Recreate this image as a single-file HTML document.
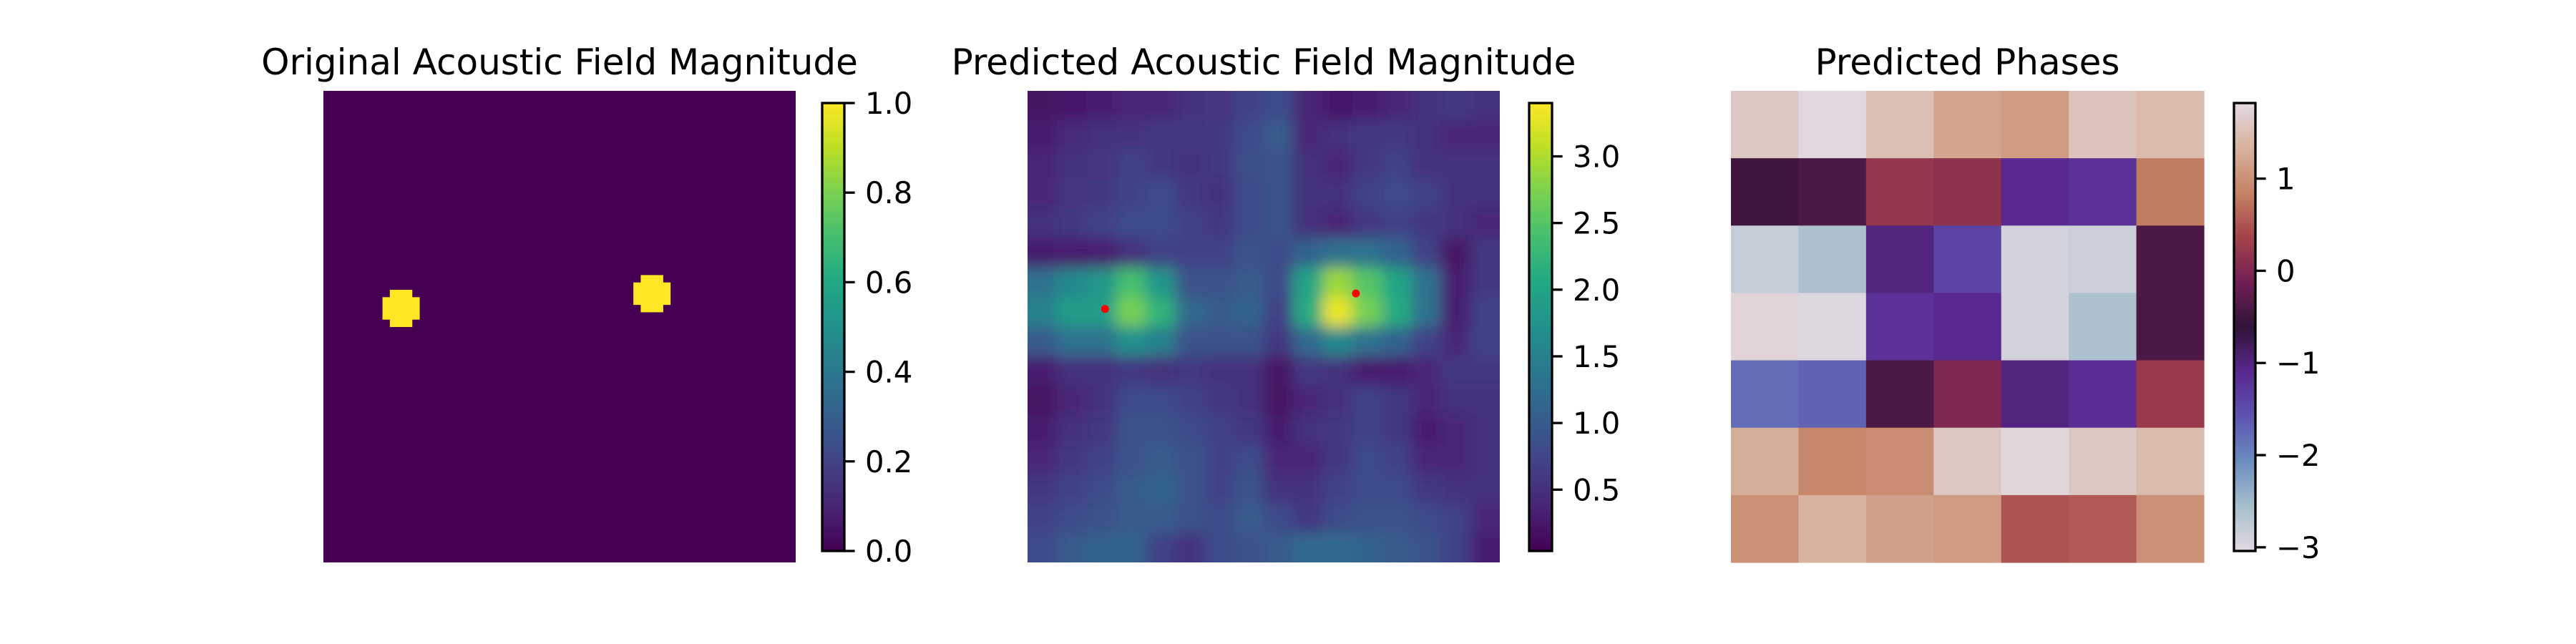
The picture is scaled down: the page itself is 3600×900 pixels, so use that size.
<!DOCTYPE html>
<html><head><meta charset="utf-8">
<style>
html,body{margin:0;padding:0;background:#fff;}
svg{display:block;}
text{font-family:"DejaVu Sans","Liberation Sans",sans-serif;fill:#000;}
</style></head>
<body>
<svg id="fig" width="3600" height="900" viewBox="0 0 3600 900" xmlns="http://www.w3.org/2000/svg">
<defs>
<clipPath id="clipP2"><rect x="1436" y="127" width="660" height="659"/></clipPath>
<filter id="smooth" filterUnits="userSpaceOnUse" x="1336" y="27" width="860" height="860"><feGaussianBlur stdDeviation="10"/></filter>
</defs>
</svg>
<script>
// ---------- data ----------
const origGridSize = 64;
const origBlobCenters = [[29, 10], [27, 44]]; // [row, col]
const origBlobRows = [[-2, 1], [-1, 2], [0, 2], [1, 2], [2, 1]]; // [rowOffset, halfWidth]
const origTicks = [0.0, 0.2, 0.4, 0.6, 0.8, 1.0];
const origTickLabels = ["0.0", "0.2", "0.4", "0.6", "0.8", "1.0"];

const predMag = [
[0.2,0.25,0.3,0.4,0.4,0.5,0.55,0.7,0.8,0.4,0.25,0.3,0.4,0.5,0.6,0.5],
[0.3,0.45,0.5,0.5,0.6,0.6,0.6,0.8,1.0,0.4,0.5,0.6,0.6,0.5,0.4,0.4],
[0.4,0.5,0.55,0.7,0.6,0.5,0.6,0.85,0.9,0.5,0.4,0.6,0.7,0.5,0.5,0.5],
[0.4,0.55,0.6,0.7,0.8,0.6,0.5,0.8,0.9,0.5,0.5,0.7,0.8,0.7,0.5,0.5],
[0.5,0.6,0.7,0.8,0.8,0.7,0.6,0.8,0.9,0.5,0.4,0.6,0.7,0.6,0.5,0.4],
[0.3,0.3,0.3,0.5,0.7,0.7,0.7,0.9,0.8,1.1,1.3,1.3,1.1,0.7,0.2,0.6],
[1.3,1.6,1.8,2.4,1.8,0.9,0.9,1.0,0.8,2.0,2.9,2.5,2.0,1.3,0.3,0.6],
[1.5,1.9,1.9,2.7,2.2,1.2,1.0,1.1,0.7,2.1,3.3,2.7,2.1,1.3,0.3,0.7],
[1.0,1.3,1.3,1.7,1.5,0.9,0.9,0.9,0.6,1.2,1.6,1.3,1.1,0.7,0.4,0.7],
[0.3,0.5,0.5,0.6,0.5,0.6,0.5,0.5,0.2,0.6,0.5,0.3,0.3,0.4,0.6,0.6],
[0.2,0.4,0.5,0.8,0.8,0.7,0.6,0.5,0.2,0.4,0.5,0.7,0.6,0.4,0.5,0.5],
[0.3,0.5,0.6,0.9,0.9,0.8,0.7,0.6,0.3,0.5,0.6,0.7,0.6,0.3,0.4,0.5],
[0.4,0.6,0.7,0.9,1.0,0.9,0.7,0.8,0.4,0.4,0.6,0.8,0.7,0.4,0.4,0.5],
[0.6,0.7,0.8,1.0,1.1,0.9,0.7,0.9,0.5,0.5,0.7,0.8,0.8,0.6,0.5,0.5],
[0.7,0.8,0.9,1.0,1.0,0.9,0.8,1.0,0.8,0.6,0.8,0.9,0.9,0.8,0.7,0.4],
[0.8,1.0,1.1,1.1,0.7,0.5,0.8,0.9,1.0,1.2,1.2,1.1,1.0,0.9,0.7,0.3]
];
const predMin = 0.04, predMax = 3.4;
const predPeaks = [[29.6, 10.5], [27.5, 44.5]]; // [row, col] in 64-grid
const predTicks = [0.5, 1.0, 1.5, 2.0, 2.5, 3.0];
const predTickLabels = ["0.5", "1.0", "1.5", "2.0", "2.5", "3.0"];

const phases = [
[1.6, 1.8, 1.5, 1.2, 1.1, 1.55, 1.45],
[-0.5, -0.4, 0.2, 0.15, -1.1, -1.2, 0.8],
[-2.8, -2.6, -1.0, -1.4, -2.9, -2.85, -0.4],
[1.75, -3.0, -1.2, -1.1, -2.9, -2.6, -0.4],
[-1.8, -1.7, -0.4, 0.0, -1.0, -1.15, 0.25],
[1.3, 0.9, 0.95, 1.6, 1.78, 1.6, 1.45],
[1.0, 1.35, 1.15, 1.1, 0.5, 0.55, 1.0]
];
const phaseMin = -3.04, phaseMax = 1.82;
const phaseTicks = [-3, -2, -1, 0, 1];
const phaseTickLabels = ["\u22123", "\u22122", "\u22121", "0", "1"];

// ---------- colormaps ----------
const viridisStops = [[68,1,84],[72,36,117],[65,68,135],[53,95,141],[42,120,142],[33,145,140],[34,168,132],[68,191,112],[122,209,81],[189,223,38],[253,231,37]];
const twilightStops = [[226,217,226],[166,191,203],[106,140,191],[93,84,176],[89,40,143],[47,20,55],[114,30,84],[164,67,74],[197,130,101],[216,178,157],[226,217,226]];
function cmap(stops, t){
  t = Math.max(0, Math.min(1, t));
  const f = t*(stops.length-1), i = Math.min(Math.floor(f), stops.length-2), u = f-i;
  const a = stops[i], b = stops[i+1];
  return `rgb(${Math.round(a[0]+(b[0]-a[0])*u)},${Math.round(a[1]+(b[1]-a[1])*u)},${Math.round(a[2]+(b[2]-a[2])*u)})`;
}

const NS = "http://www.w3.org/2000/svg";
const svg = document.getElementById('fig');
const defs = svg.querySelector('defs');
function el(tag, attrs, parent){
  const e = document.createElementNS(NS, tag);
  for (const k in attrs) e.setAttribute(k, attrs[k]);
  (parent||svg).appendChild(e);
  return e;
}

const IMG_Y = 127, IMG_H = 659, CB_Y = 144, CB_H = 626;

function gradient(id, stops){
  const g = el('linearGradient', {id:id, x1:0, y1:1, x2:0, y2:0}, defs);
  stops.forEach((s,i)=>{ el('stop', {offset:(i/(stops.length-1)), 'stop-color':`rgb(${s[0]},${s[1]},${s[2]})`}, g); });
}
gradient('gViridis', viridisStops);
gradient('gTwilight', twilightStops);

function title(txt, cx, name){
  const t = el('text', {x:cx, y:104, 'font-size':50, 'text-anchor':'middle'});
  
  
  t.textContent = txt;
}

function colorbar(x, w, grad, vmin, vmax, ticks, labels, name){
  const g = el('g', {});
  
  
  el('rect', {x:x, y:CB_Y, width:w, height:CB_H, fill:`url(#${grad})`}, g);
  el('rect', {x:x, y:CB_Y, width:w, height:CB_H, fill:'none', stroke:'#000', 'stroke-width':3.3}, g);
  const yOf = v => CB_Y + CB_H - (v - vmin)/(vmax - vmin)*CB_H;
  ticks.forEach((v,i)=>{
    const y = yOf(v);
    const tk = el('line', {x1:x+w, x2:x+w+14.6, y1:y, y2:y, stroke:'#000', 'stroke-width':3.3}, g);
    
    
    const lb = el('text', {x:x+w+29, y:y+15, 'font-size':41.7}, g);
    
    
    lb.textContent = labels[i];
  });
}

// ---------- Panel 1: original ----------
(function(){
  const X0 = 452, W = 660;
  const cs = W/origGridSize, csy = IMG_H/origGridSize;
  const g = el('g', {});
  
  
  el('rect', {x:X0, y:IMG_Y, width:W, height:IMG_H, fill:cmap(viridisStops,0)}, g);
  origBlobCenters.forEach(c=>{
    origBlobRows.forEach(r=>{
      const row = c[0]+r[0];
      const b = el('rect', {x:X0+(c[1]-r[1])*cs, y:IMG_Y+row*csy, width:(2*r[1]+1)*cs+0.5, height:csy+0.5, fill:cmap(viridisStops,1)}, g);
      
      
    });
  });
  title('Original Acoustic Field Magnitude', X0+W/2, 'original-title');
  colorbar(1149, 31, 'gViridis', 0, 1, origTicks, origTickLabels, 'original-colorbar');
})();

// ---------- Panel 2: predicted ----------
(function(){
  const X0 = 1436, W = 660, PAD = 60;
  const n = predMag.length, cs = W/n, csy = IMG_H/n;
  const outer = el('g', {'clip-path':'url(#clipP2)'});
  
  
  const g = el('g', {filter:'url(#smooth)'}, outer);
  predMag.forEach((row, r)=>row.forEach((v, c)=>{
    // edge cells extend outward so blur does not fade at the border
    let x = X0+c*cs, y = IMG_Y+r*csy, w = cs+0.6, h = csy+0.6;
    if (c===0){ x -= PAD; w += PAD; }
    if (c===n-1){ w += PAD; }
    if (r===0){ y -= PAD; h += PAD; }
    if (r===n-1){ h += PAD; }
    const cell = el('rect', {x:x, y:y, width:w, height:h, fill:cmap(viridisStops,(v-predMin)/(predMax-predMin))}, g);
    
    
  }));
  predPeaks.forEach(p=>{
    const d = el('circle', {cx:X0+p[1]*W/64, cy:IMG_Y+p[0]*IMG_H/64, r:5.5, fill:'#ff0000'});
    
    
  });
  title('Predicted Acoustic Field Magnitude', X0+W/2, 'predicted-title');
  colorbar(2137, 32, 'gViridis', predMin, predMax, predTicks, predTickLabels, 'predicted-colorbar');
})();

// ---------- Panel 3: phases ----------
(function(){
  const X0 = 2419, W = 661;
  const n = phases.length, cs = W/n, csy = IMG_H/n;
  const g = el('g', {});
  
  
  phases.forEach((row, r)=>row.forEach((v, c)=>{
    const cell = el('rect', {x:X0+c*cs, y:IMG_Y+r*csy, width:cs+0.6, height:csy+0.6, fill:cmap(twilightStops,(v-phaseMin)/(phaseMax-phaseMin))}, g);
    
    
  }));
  title('Predicted Phases', X0+W/2, 'phases-title');
  colorbar(3122, 30, 'gTwilight', phaseMin, phaseMax, phaseTicks, phaseTickLabels, 'phase-colorbar');
})();
</script>
</body></html>
